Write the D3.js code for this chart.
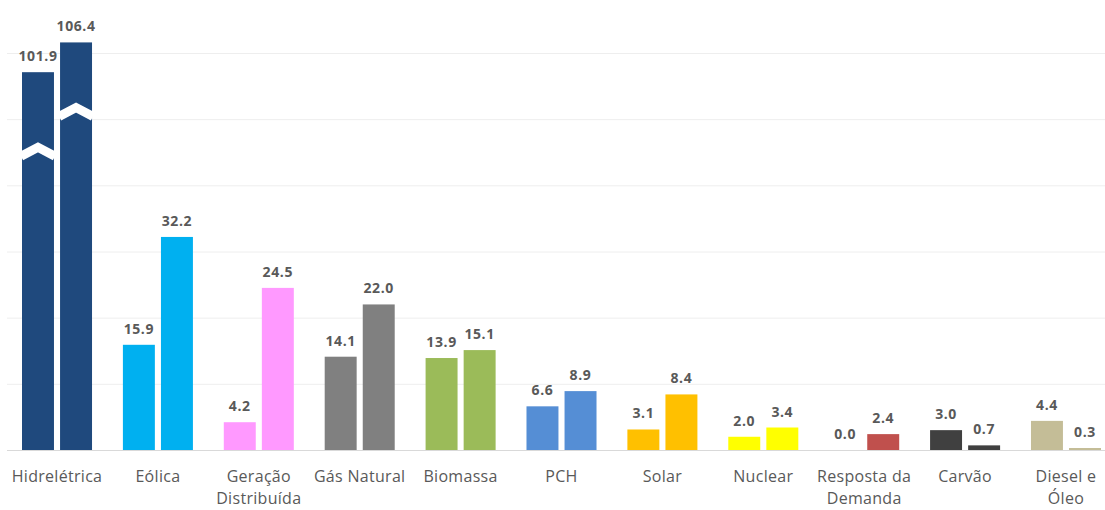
<!DOCTYPE html>
<html>
<head>
<meta charset="utf-8">
<script src="https://cdn.jsdelivr.net/npm/d3@7"></script>
<style>
  body { margin: 0; background: #fff; }
  text { font-family: 'Open Sans', sans-serif; fill: #595959; }
  .val { font-weight: 700; font-size: 14px; letter-spacing: 0.6px; }
  .cat { font-size: 16px; letter-spacing: 0.3px; }
</style>
</head>
<body>
<div id="chart"></div>
<script>
// categories and two series (first / second period)
const categories = ['Hidrelétrica', 'Eólica', 'Geração Distribuída', 'Gás Natural', 'Biomassa', 'PCH', 'Solar', 'Nuclear', 'Resposta da Demanda', 'Carvão', 'Diesel e Óleo']
const tickLines = [['Hidrelétrica'], ['Eólica'], ['Geração', 'Distribuída'], ['Gás Natural'], ['Biomassa'], ['PCH'], ['Solar'], ['Nuclear'], ['Resposta da', 'Demanda'], ['Carvão'], ['Diesel e', 'Óleo']]
const serieA = [101.9, 15.9, 4.2, 14.1, 13.9, 6.6, 3.1, 2.0, 0.0, 3.0, 4.4]
const serieB = [106.4, 32.2, 24.5, 22.0, 15.1, 8.9, 8.4, 3.4, 2.4, 0.7, 0.3]
const colors = ['#1F497D', '#00B0F0', '#FF99FF', '#808080', '#9BBB59', '#558ED5', '#FFC000', '#FFFF00', '#C0504D', '#404040', '#C4BD97']
const gridTicks = [0, 10, 20, 30, 40, 50, 60]

// the hydro bars are drawn with an axis break
const breakOffset = 44.8
const breakAt = [45, 51]

const W = 1105
const H = 510

const svg = d3.select('#chart')
  .append('svg')
  .attr('width', W)
  .attr('height', H)

const x = d3.scaleBand()
  .domain(categories)
  .range([22, 1101])
  .paddingInner(0.306)
  .paddingOuter(0)

const x1 = d3.scaleBand()
  .domain(['a', 'b'])
  .range([0, x.bandwidth()])
  .paddingInner(0.16)

const y = d3.scaleLinear()
  .domain([0, 60])
  .range([450, 53])

// gridlines
svg.append('g')
  .attr('transform', 'translate(7,0)')
  .call(d3.axisLeft(y).tickValues(gridTicks).tickSize(-(W - 7)).tickFormat(''))
  .call(g => g.select('.domain').remove())
  .call(g => g.selectAll('.tick line')
    .attr('stroke', d => d === 0 ? '#d9d9d9' : '#eeeeee'))

const rows = categories.map((c, i) => ({ cat: c, i, a: serieA[i], b: serieB[i] }))
const bars = []
rows.forEach(r => {
  bars.push({ cat: r.cat, i: r.i, key: 'a', v: r.a })
  bars.push({ cat: r.cat, i: r.i, key: 'b', v: r.b })
})

const shown = d => (d.i === 0 ? d.v - breakOffset : d.v)

const g = svg.append('g')

g.selectAll('rect')
  .data(bars)
  .join('rect')
  .attr('x', d => x(d.cat) + x1(d.key))
  .attr('y', d => y(shown(d)))
  .attr('width', x1.bandwidth())
  .attr('height', d => y(0) - y(shown(d)))
  .attr('fill', d => colors[d.i])

// break markers on the hydro bars
const hydro = bars.filter(d => d.i === 0)
g.selectAll('path.brk')
  .data(hydro)
  .join('path')
  .attr('class', 'brk')
  .attr('d', (d, k) => {
    const x0 = x(d.cat) + x1(d.key) - 1
    const x2 = x0 + x1.bandwidth() + 2
    const xm = (x0 + x2) / 2
    const yc = y(breakAt[k])
    return `M${x0},${yc + 4}L${xm},${yc - 5}L${x2},${yc + 4}`
  })
  .attr('fill', 'none')
  .attr('stroke', '#fff')
  .attr('stroke-width', 9)

// value labels
g.selectAll('text.val')
  .data(bars)
  .join('text')
  .attr('class', 'val')
  .attr('text-anchor', 'middle')
  .attr('x', d => x(d.cat) + x1(d.key) + x1.bandwidth() / 2)
  .attr('y', d => y(shown(d)) - 11)
  .text(d => d.v.toFixed(1))

// category labels
const cats = svg.append('g')
  .selectAll('text.cat')
  .data(categories)
  .join('text')
  .attr('class', 'cat')
  .attr('text-anchor', 'middle')
  .attr('x', d => x(d) + x.bandwidth() / 2)
  .attr('y', 482)

cats.selectAll('tspan')
  .data((d, i) => tickLines[i])
  .join('tspan')
  .attr('x', function () { return d3.select(this.parentNode).attr('x') })
  .attr('dy', (d, i) => i === 0 ? 0 : 22)
  .text(d => d)
</script>
</body>
</html>
